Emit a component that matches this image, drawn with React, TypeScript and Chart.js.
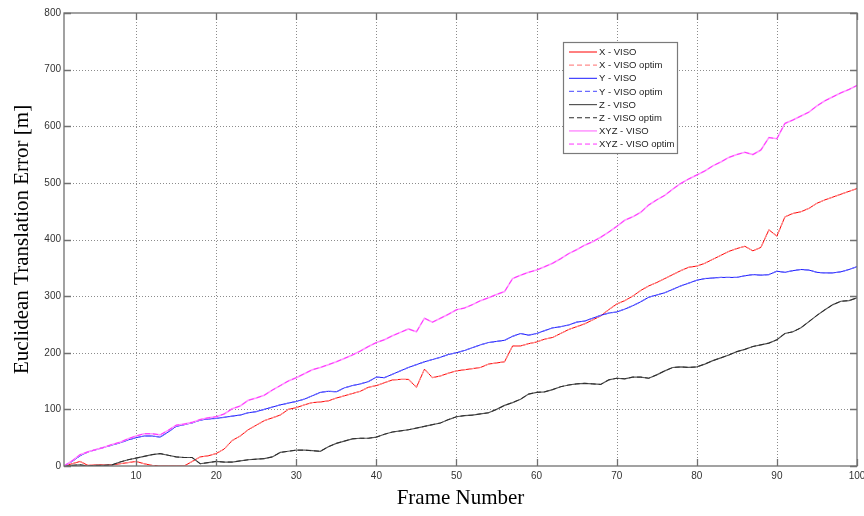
import React, { useEffect, useRef } from "react";
import { Chart, registerables } from "chart.js";

Chart.register(...registerables);

// Frame index (x axis)
const frames: number[] = Array.from({ length: 100 }, (_, i) => i + 1);

// Translation error per frame [m]
const xViso: number[] = [
  0, 4, 8, 1, 2, 2, 2, 4, 6, 8, 4, 1, 0, 0, 0, 0, 8, 16, 18, 22,
  30, 45, 53, 64, 72, 80, 85, 90, 100, 103, 108, 112, 113, 115, 120, 124, 128, 132, 139, 142,
  147, 152, 153, 153, 139, 171, 156, 159, 164, 168, 170, 172, 174, 180, 182, 184, 212, 212, 216, 219,
  224, 227, 234, 241, 246, 251, 258, 265, 276, 286, 292, 300, 310, 318, 324, 331, 338, 345, 351, 353,
  358, 365, 372, 379, 384, 388, 380, 386, 417, 406, 440, 446, 449, 455, 464, 470, 475, 480, 485, 490,
];
const yViso: number[] = [
  0, 8, 18, 25, 29, 33, 37, 41, 46, 50, 53, 53, 51, 60, 70, 73, 76, 81, 83, 84,
  86, 88, 90, 94, 96, 100, 104, 108, 111, 114, 118, 124, 130, 132, 131, 138, 142, 145, 149, 157,
  156, 162, 168, 174, 179, 184, 188, 192, 197, 200, 204, 209, 214, 218, 220, 222, 229, 234, 231, 234,
  239, 244, 246, 249, 254, 256, 261, 266, 270, 272, 277, 283, 290, 298, 302, 306, 312, 318, 323, 328,
  331, 332, 333, 333, 333, 336, 338, 337, 338, 344, 342, 345, 347, 346, 342, 341, 341, 343, 347, 352,
];
const zViso: number[] = [
  0, 1, 2, 0, 1, 1, 2, 7, 11, 14, 17, 20, 22, 19, 16, 15, 15, 4, 6, 8,
  7, 7, 9, 11, 12, 13, 16, 24, 26, 28, 28, 27, 26, 34, 40, 44, 48, 49, 49, 51,
  56, 60, 62, 64, 67, 70, 73, 76, 82, 87, 89, 90, 92, 94, 100, 107, 112, 118, 127, 130,
  131, 135, 140, 143, 145, 146, 145, 144, 152, 155, 154, 157, 157, 155, 161, 168, 174, 175, 174, 175,
  180, 186, 191, 196, 202, 206, 211, 214, 217, 223, 234, 237, 244, 255, 266, 276, 285, 291, 292, 297,
];
const xyzViso: number[] = [
  0, 9, 20, 25, 29, 33, 38, 42, 48, 53, 57, 57, 55, 63, 72, 74, 77, 82, 85, 87,
  92, 101, 106, 116, 120, 125, 134, 142, 150, 156, 163, 170, 174, 179, 184, 190, 196, 203, 211, 218,
  223, 230, 236, 242, 237, 261, 254, 261, 268, 276, 279, 285, 292, 297, 303, 308, 331, 337, 342, 346,
  352, 358, 366, 375, 382, 390, 396, 404, 413, 423, 434, 440, 448, 461, 470, 478, 489, 499, 507, 514,
  521, 530, 537, 545, 550, 554, 550, 558, 580, 578, 605, 611, 618, 625, 636, 645, 652, 659, 665, 672,
];

// The optimised runs track the plain runs to within a line width
const xVisoOptim: number[] = xViso.slice();
const yVisoOptim: number[] = yViso.slice();
const zVisoOptim: number[] = zViso.slice();
const xyzVisoOptim: number[] = xyzViso.slice();

const xTickValues: number[] = [10, 20, 30, 40, 50, 60, 70, 80, 90, 100];
const yTickValues: number[] = [0, 100, 200, 300, 400, 500, 600, 700, 800];

const seriesLabels: string[] = [
  "X - VISO",
  "X - VISO optim",
  "Y - VISO",
  "Y - VISO optim",
  "Z - VISO",
  "Z - VISO optim",
  "XYZ - VISO",
  "XYZ - VISO optim",
];

const SANS = "'Liberation Sans', Arial, sans-serif";
const SERIF = "'Liberation Serif', 'Times New Roman', serif";

const toPoints = (vals: number[]) => frames.map((f, i) => ({ x: f, y: vals[i] }));

const styles = [
  { color: "#ff0000", width: 1, dash: [] as number[] },
  { color: "#ff8c8c", width: 1.2, dash: [5, 3] },
  { color: "#1a1aff", width: 1, dash: [] as number[] },
  { color: "#6b6bff", width: 1.2, dash: [5, 3] },
  { color: "#555555", width: 1.2, dash: [] as number[] },
  { color: "#2b2b2b", width: 1, dash: [5, 3] },
  { color: "#ff99ff", width: 1.6, dash: [] as number[] },
  { color: "#ff33ff", width: 1, dash: [5, 3] },
];

const seriesValues = [xViso, xVisoOptim, yViso, yVisoOptim, zViso, zVisoOptim, xyzViso, xyzVisoOptim];

const boxPlugin = {
  id: "matlabBox",
  beforeDatasetsDraw(chart: any) {
    const { ctx, chartArea: a, scales } = chart;
    ctx.save();
    ctx.strokeStyle = "#8c8c8c";
    ctx.lineWidth = 1;
    ctx.setLineDash([1, 2]);
    xTickValues.forEach((v) => {
      if (v <= 1 || v >= 100) return;
      const px = Math.round(scales.x.getPixelForValue(v)) + 0.5;
      ctx.beginPath();
      ctx.moveTo(px, a.top);
      ctx.lineTo(px, a.bottom);
      ctx.stroke();
    });
    yTickValues.forEach((v) => {
      if (v <= 0 || v >= 800) return;
      const py = Math.round(scales.y.getPixelForValue(v)) + 0.5;
      ctx.beginPath();
      ctx.moveTo(a.left, py);
      ctx.lineTo(a.right, py);
      ctx.stroke();
    });
    ctx.restore();
  },
  afterDatasetsDraw(chart: any) {
    const { ctx, chartArea: a, scales } = chart;
    ctx.save();
    ctx.strokeStyle = "#707070";
    ctx.lineWidth = 1.3;
    ctx.setLineDash([]);
    ctx.strokeRect(a.left, a.top, a.right - a.left, a.bottom - a.top);
    const tl = 7;
    xTickValues.forEach((v) => {
      const px = Math.round(scales.x.getPixelForValue(v)) + 0.5;
      ctx.beginPath();
      ctx.moveTo(px, a.bottom);
      ctx.lineTo(px, a.bottom - tl);
      ctx.moveTo(px, a.top);
      ctx.lineTo(px, a.top + tl);
      ctx.stroke();
    });
    yTickValues.forEach((v) => {
      const py = Math.round(scales.y.getPixelForValue(v)) + 0.5;
      ctx.beginPath();
      ctx.moveTo(a.left, py);
      ctx.lineTo(a.left + tl, py);
      ctx.moveTo(a.right, py);
      ctx.lineTo(a.right - tl, py);
      ctx.stroke();
    });

    // legend box
    const lx = 563.5;
    const ly = 42.5;
    const lw = 114;
    const lh = 111;
    ctx.fillStyle = "#ffffff";
    ctx.fillRect(lx, ly, lw, lh);
    ctx.strokeStyle = "#7a7a7a";
    ctx.lineWidth = 1.2;
    ctx.strokeRect(lx, ly, lw, lh);
    ctx.font = `9.5px ${SANS}`;
    ctx.textBaseline = "middle";
    ctx.textAlign = "left";
    chart.data.datasets.forEach((ds: any, i: number) => {
      const y = 52 + i * 13.15;
      ctx.strokeStyle = ds.borderColor;
      ctx.lineWidth = ds.borderWidth;
      ctx.setLineDash(ds.borderDash || []);
      ctx.beginPath();
      ctx.moveTo(569, y);
      ctx.lineTo(597, y);
      ctx.stroke();
      ctx.setLineDash([]);
      ctx.fillStyle = "#222222";
      ctx.fillText(ds.label, 599, y + 0.5);
    });

    // axis titles
    ctx.fillStyle = "#000000";
    ctx.font = `21px ${SERIF}`;
    ctx.textAlign = "center";
    ctx.textBaseline = "middle";
    ctx.fillText("Frame Number", (a.left + a.right) / 2, 498);
    ctx.translate(22, (a.top + a.bottom) / 2);
    ctx.rotate(-Math.PI / 2);
    ctx.fillText("Euclidean Translation Error [m]", 0, 0);
    ctx.restore();
  },
};

export default function App() {
  const canvasRef = useRef<HTMLCanvasElement | null>(null);

  useEffect(() => {
    document.body.style.margin = "0";
    const canvas = canvasRef.current;
    if (!canvas) return;
    const chart = new Chart(canvas, {
      type: "line",
      data: {
        datasets: seriesLabels.map((label, i) => ({
          label,
          data: toPoints(seriesValues[i]),
          borderColor: styles[i].color,
          backgroundColor: styles[i].color,
          borderWidth: styles[i].width,
          borderDash: styles[i].dash,
          pointRadius: 0,
          tension: 0,
          fill: false,
          order: 8 - i,
        })),
      },
      options: {
        animation: false,
        responsive: false,
        maintainAspectRatio: false,
        layout: { padding: { top: 13, right: 7, left: 0, bottom: 0 } },
        plugins: {
          legend: { display: false },
          tooltip: { enabled: false },
          title: { display: false },
        },
        scales: {
          x: {
            type: "linear",
            min: 1,
            max: 100,
            afterBuildTicks: (s: any) => {
              s.ticks = xTickValues.map((v) => ({ value: v }));
            },
            afterFit: (s: any) => {
              s.height = 50;
              s.paddingLeft = 0;
              s.paddingRight = 0;
            },
            grid: { display: false, drawTicks: false },
            border: { display: false },
            ticks: {
              padding: 4,
              color: "#333333",
              font: { family: SANS, size: 10 },
              maxRotation: 0,
              autoSkip: false,
            },
          },
          y: {
            type: "linear",
            min: 0,
            max: 800,
            afterBuildTicks: (s: any) => {
              s.ticks = yTickValues.map((v) => ({ value: v }));
            },
            afterFit: (s: any) => {
              s.width = 64;
              s.paddingTop = 0;
              s.paddingBottom = 0;
            },
            grid: { display: false, drawTicks: false },
            border: { display: false },
            ticks: {
              padding: 3,
              color: "#333333",
              font: { family: SANS, size: 10 },
              autoSkip: false,
            },
          },
        },
      },
      plugins: [boxPlugin],
    });
    return () => chart.destroy();
  }, []);

  return (
    <div style={{ position: "absolute", left: 0, top: 0, width: 864, height: 516, background: "#ffffff" }}>
      <canvas ref={canvasRef} width={864} height={516} style={{ width: 864, height: 516 }} />
    </div>
  );
}
